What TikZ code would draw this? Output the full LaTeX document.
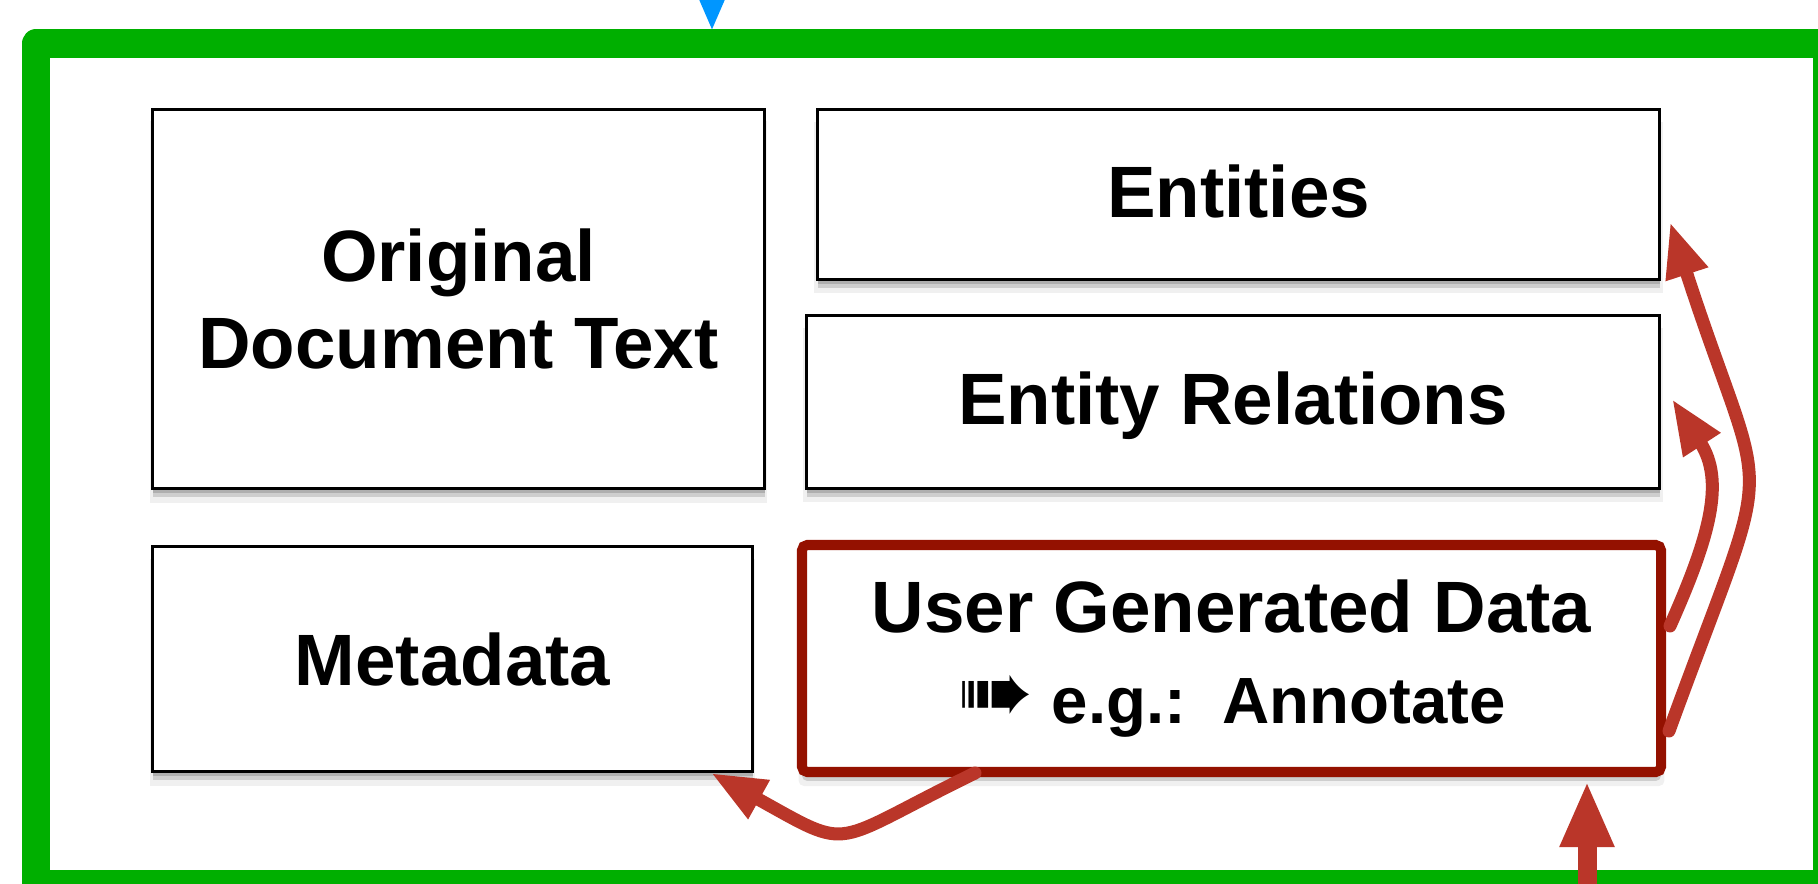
\documentclass[tikz,border=0pt]{standalone}
\usepackage{fontspec}
\setmainfont{Liberation Sans}
\newfontfamily\symbolfont{DejaVu Sans}
\usepackage{tikz}
\usetikzlibrary{arrows.meta}
\usetikzlibrary{shadows}
\pgfdeclarelayer{edgelayer}
\pgfdeclarelayer{nodelayer}
\pgfsetlayers{nodelayer,edgelayer,main}
\definecolor{framegreen}{RGB}{0,175,0}
\definecolor{userred}{RGB}{148,17,0}
\definecolor{linkred}{RGB}{186,54,41}
\definecolor{inblue}{RGB}{0,150,255}
\newcommand{\boxfont}{\fontsize{20.7}{24.5}\selectfont\bfseries}
\tikzstyle{none}=[inner sep=0pt]
\tikzstyle{box}=[draw=black, line width=0.85pt, fill=white, inner sep=0pt, align=center, font=\boxfont,
	drop shadow={shadow xshift=0pt, shadow yshift=-0.05cm, opacity=0.4},
	drop shadow={shadow xshift=0pt, shadow yshift=-0.09cm, opacity=0.3},
	drop shadow={shadow xshift=0pt, shadow yshift=-0.13cm, shadow scale=1.008, opacity=0.12}]
\tikzstyle{user box}=[box, draw=userred, line width=2.85pt, rounded corners=1.5pt]
\tikzstyle{frame}=[draw=framegreen, line width=8.25pt, line join=round, inner sep=0pt]
\tikzstyle{link}=[draw=linkred, line width=3.7pt, line cap=round, -{Triangle[length=0.55cm, width=0.41cm]}]
\tikzstyle{input}=[draw=linkred, line width=5.4pt, -{Triangle[length=0.66cm, width=0.5cm]}]

\begin{document}
\begin{tikzpicture}
	\useasboundingbox (0, 0) rectangle (18.18, 8.83);
	\begin{pgfonlayer}{nodelayer}
		\node [style=frame, minimum width=17.91cm, minimum height=8.4cm] (5) at (9.315, 4.19) {};
		\node [style=box, minimum width=6.12cm, minimum height=3.79cm] (0) at (4.585, 5.84) {Original\\Document Text};
		\node [style=box, minimum width=8.42cm, minimum height=1.7cm, text depth=2pt] (1) at (12.385, 6.885) {Entities};
		\node [style=box, minimum width=8.53cm, minimum height=1.73cm, text depth=2pt] (2) at (12.33, 4.81) {Entity Relations};
		\node [style=box, minimum width=6cm, minimum height=2.25cm] (3) at (4.525, 2.24) {Metadata};
		\node [style=user box, minimum width=8.59cm, minimum height=2.27cm] (4) at (12.315, 2.245) {User Generated Data\\[1.5pt]{\fontsize{18.6}{22}\selectfont{\symbolfont\fontsize{26}{26}\selectfont ➠}\ e.g.:\ \ Annotate}};
		\node [style=none] (6) at (16.69, 1.52) {};
		\node [style=none] (7) at (16.7, 6.61) {};
		\node [style=none] (8) at (16.7, 2.57) {};
		\node [style=none] (9) at (16.72, 4.84) {};
		\node [style=none] (10) at (9.75, 1.1) {};
		\node [style=none] (11) at (7.11, 1.1) {};
		\node [style=none] (12) at (15.87, -0.2) {};
		\node [style=none] (13) at (15.87, 1.02) {};
		\node [style=none] (14) at (7.12, 9.3) {};
		\node [style=none] (15) at (7.12, 8.53) {};
	\end{pgfonlayer}
	\begin{pgfonlayer}{edgelayer}
		\draw [style=link, out=70, in=-72, looseness=1.6] (6.center) to (7.center);
		\draw [style=link, out=66, in=-57, looseness=1.1] (8.center) to (9.center);
		\draw [style=link, out=206, in=-29, looseness=1.6] (10.center) to (11.center);
		\draw [style=input] (12.center) to (13.center);
		\draw [draw=inblue, line width=2pt, -{Triangle[length=0.4cm, width=0.32cm]}] (14.center) to (15.center);
	\end{pgfonlayer}
\end{tikzpicture}
\end{document}
